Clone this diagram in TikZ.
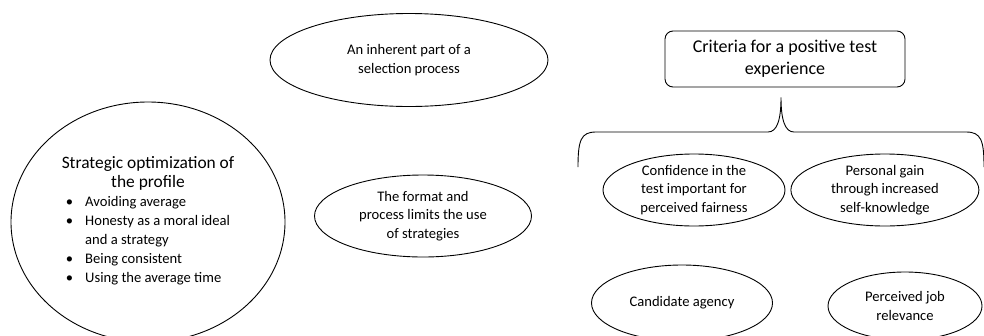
\documentclass[tikz,border=0pt]{standalone}
\usepackage{fontspec}
\setmainfont{Carlito}
\usetikzlibrary{positioning,shapes.geometric}
\newcommand{\txtsize}{\fontsize{14.6}{18.8}\selectfont}
\newcommand{\headsize}{\fontsize{17.4}{18.5}\selectfont}
\newcommand{\critsize}{\fontsize{18}{22}\selectfont}

\begin{document}
\begin{tikzpicture}[
  x=1pt, y=-1pt,
  node distance=5pt and 5pt,
  oval/.style={draw, ellipse, inner sep=0pt, align=center, font=\txtsize, line width=0.9pt},
  box/.style={draw, rounded corners=8pt, align=center, font=\critsize, minimum width=240pt, minimum height=56pt, line width=0.9pt},
  brace/.style={line width=0.9pt}
]
\useasboundingbox (0,0) rectangle (984,335);

% left part: strategies
\node[oval, minimum width=274pt, minimum height=240pt] (strat) at (148,222) {\headsize Strategic optimization of\\ \headsize the profile\\[1pt]
  \txtsize\begin{tabular}[t]{@{}c@{\hspace{12pt}}l@{}}
  \textbullet & Avoiding average\\
  \textbullet & Honesty as a moral ideal\\
              & and a strategy\\
  \textbullet & Being consistent\\
  \textbullet & Using the average time
  \end{tabular}};
\node[oval, minimum width=278pt, minimum height=93pt] (inher) at (409,60) {An inherent part of a\\selection process};
\node[oval, minimum width=217pt, minimum height=82pt] (format) at (423,216) {The format and\\process limits the use\\of strategies};

% right part: criteria
\node[box] (crit) at (785,59) {Criteria for a positive test\\experience};
\node[oval, minimum width=182pt, minimum height=72pt] (conf) at (694,190) {Confidence in the\\test important for\\perceived fairness};
\node[oval, right=5pt of conf, minimum width=188pt, minimum height=72pt] (gain) {Personal gain\\through increased\\self-knowledge};
\node[oval, minimum width=181pt, minimum height=76pt] (agency) at (682,303) {Candidate agency};
\node[oval, minimum width=154pt, minimum height=68pt] (relev) at (905,306) {Perceived job\\relevance};

\coordinate[below=10pt of crit.south, xshift=-4pt] (tip);
\coordinate (lend) at (578,167);
\coordinate (rend) at (984,167);
\draw[brace] (lend) .. controls (578,140) and (581,132) .. (596,132) -- (768,132)
  .. controls (777,132) and (781,120) .. (tip)
  .. controls (781,120) and (785,132) .. (794,132) -- (966,132)
  .. controls (981,132) and (984,140) .. (rend);
\end{tikzpicture}
\end{document}
